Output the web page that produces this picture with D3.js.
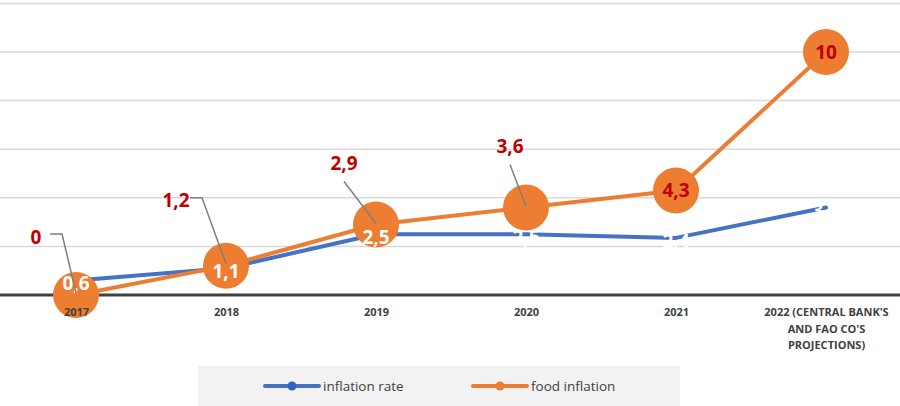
<!DOCTYPE html>
<html>
<head>
<meta charset="utf-8">
<script src="https://cdn.jsdelivr.net/npm/d3@7"></script>
<style>
  html, body { margin: 0; padding: 0; background: #fff; }
  svg { display: block; font-family: "Open Sans", "Liberation Sans", sans-serif; }
</style>
</head>
<body>
<div id="chart"></div>
<script>
// ---- data ----
const years = ["2017", "2018", "2019", "2020", "2021", "2022 (CENTRAL BANK'S AND FAO CO'S PROJECTIONS)"];
const yearLines = [["2017"], ["2018"], ["2019"], ["2020"], ["2021"], ["2022 (CENTRAL BANK'S", "AND FAO CO'S", "PROJECTIONS)"]];
const inflationRate = [0.6, 1.1, 2.5, 2.5, 2.35, 3.6];
const foodInflation = [0, 1.2, 2.9, 3.6, 4.3, 10];
const rateLabels = ["0,6", "1,1", "2,5", "2,5", "2,4", "3,6"];
const foodLabels = ["0", "1,2", "2,9", "3,6", "4,3", "10"];
const yTicks = [0, 2, 4, 6, 8, 10, 12];

(function () {
  const W = 900, H = 406;
  const top = 3.4, bottom = 295;
  const FONT = "'Open Sans', 'Liberation Sans', sans-serif";

  const svg = d3.select("#chart").append("svg")
    .attr("width", W).attr("height", H);

  const x = d3.scalePoint().domain(years).range([1, 901]).padding(0.5);
  const y = d3.scaleLinear().domain([0, 12]).range([bottom, top]);

  // gridlines
  svg.append("g")
    .selectAll("line")
    .data(yTicks.filter(d => d > 0))
    .join("line")
    .attr("x1", 0).attr("x2", W)
    .attr("y1", d => y(d)).attr("y2", d => y(d))
    .attr("stroke", "#d9d9d9").attr("stroke-width", 1.5);

  // axis base line
  svg.append("line")
    .attr("x1", 0).attr("x2", W)
    .attr("y1", y(0)).attr("y2", y(0))
    .attr("stroke", "#404040").attr("stroke-width", 3);

  const line = d3.line().x((d, i) => x(years[i])).y(d => y(d));

  // inflation rate (blue)
  svg.append("path")
    .datum(inflationRate)
    .attr("d", line)
    .attr("fill", "none")
    .attr("stroke", "#4472c4").attr("stroke-width", 4)
    .attr("stroke-linejoin", "round").attr("stroke-linecap", "round");

  // food inflation (orange)
  svg.append("path")
    .datum(foodInflation)
    .attr("d", line)
    .attr("fill", "none")
    .attr("stroke", "#ed7d31").attr("stroke-width", 4)
    .attr("stroke-linejoin", "round");
  svg.append("g").selectAll("circle")
    .data(foodInflation)
    .join("circle")
    .attr("cx", (d, i) => x(years[i])).attr("cy", d => y(d))
    .attr("r", 23).attr("fill", "#ed7d31");

  // x axis labels (drawn over the markers)
  const xAxis = svg.append("g")
    .attr("transform", `translate(0,${bottom})`)
    .call(d3.axisBottom(x).tickSize(0).tickFormat(""));
  xAxis.select(".domain").remove();
  xAxis.selectAll(".tick").each(function (d, i) {
    const t = d3.select(this).append("text")
      .attr("fill", "#404040")
      .attr("font-family", FONT)
      .attr("font-size", 11)
      .attr("font-weight", "bold")
      .attr("text-anchor", "middle");
    yearLines[i].forEach((ln, k) => {
      t.append("tspan").attr("x", 0).attr("y", 21 + k * 16.5).text(ln);
    });
  });

  // white labels for inflation rate
  svg.append("g").selectAll("text")
    .data(inflationRate)
    .join("text")
    .attr("x", (d, i) => x(years[i]))
    .attr("y", d => y(d) + 3)
    .attr("dy", "0.35em")
    .attr("text-anchor", "middle")
    .attr("fill", "#fff")
    .attr("font-family", FONT)
    .attr("font-size", 19).attr("font-weight", "bold")
    .text((d, i) => rateLabels[i]);

  // food labels: offset (dx, dy) from point, null = centered on marker
  const offsets = [[-40, -58], [-50, -65], [-32, -61], [-16, -61], null, null];
  const leaders = svg.append("g");
  const labels = svg.append("g");
  foodInflation.forEach((v, i) => {
    const px = x(years[i]), py = y(v);
    const o = offsets[i];
    const lx = o ? px + o[0] : px, ly = o ? py + o[1] : py;
    if (o) {
      let pts;
      if (i < 2) {
        pts = [[lx + 14, ly - 3], [lx + 26, ly - 3], [px, py - 2]];
      } else {
        pts = [[lx, ly + 18], [px, py - 1]];
      }
      leaders.append("path")
        .attr("d", d3.line()(pts))
        .attr("fill", "none").attr("stroke", "#7f7f7f").attr("stroke-width", 1.5);
    }
    labels.append("text")
      .attr("x", lx).attr("y", ly)
      .attr("dy", "0.35em")
      .attr("text-anchor", "middle")
      .attr("fill", "#c00000")
      .attr("font-family", FONT)
      .attr("font-size", 19).attr("font-weight", "bold")
      .text(foodLabels[i]);
  });

  // legend
  const lg = svg.append("g");
  lg.append("rect")
    .attr("x", 198).attr("y", 366).attr("width", 482).attr("height", 40)
    .attr("fill", "#f2f2f2");
  const items = [
    { name: "inflation rate", color: "#4472c4", dot: "#2e64c0", x: 265 },
    { name: "food inflation", color: "#ed7d31", dot: "#ed7d31", x: 473 }
  ];
  items.forEach(it => {
    lg.append("line")
      .attr("x1", it.x).attr("x2", it.x + 54)
      .attr("y1", 386).attr("y2", 386)
      .attr("stroke", it.color).attr("stroke-width", 4).attr("stroke-linecap", "round");
    lg.append("circle").attr("cx", it.x + 27).attr("cy", 386).attr("r", 4.5).attr("fill", it.dot);
    lg.append("text")
      .attr("x", it.x + 58).attr("y", 386).attr("dy", "0.35em")
      .attr("fill", "#404040").attr("font-family", FONT).attr("font-size", 13.5)
      .text(it.name);
  });
})();
</script>
</body>
</html>
